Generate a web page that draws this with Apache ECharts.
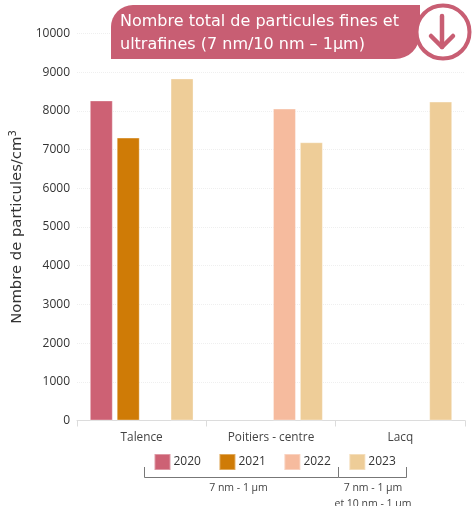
<!DOCTYPE html>
<html><head><meta charset="utf-8">
<style>html,body{margin:0;padding:0;background:#fff}#c{width:476px;height:506px}</style>
<script src="https://cdn.jsdelivr.net/npm/echarts@6/dist/echarts.min.js"></script>
</head><body><div id="c"></div>
<script>
const categories = ['Talence', 'Poitiers - centre', 'Lacq'];
const values2020 = [8270, null, null];
const values2021 = [7310, null, null];
const values2022 = [null, 8060, null];
const values2023 = [8840, 7190, 8240];
const yAxisTitle = 'Nombre de particules/cm{sup|3}';
const titleLines = ['Nombre total de particules fines et', 'ultrafines (7 nm/10 nm – 1µm)'];
const font = '"Open Sans"';
const roundFont = '"DejaVu Sans"';
const mk = (name, data, color) => ({
  name, type: 'bar', data, barWidth: 23, barGap: '17%', barCategoryGap: '10%',
  itemStyle: {color, borderColor: 'rgba(255,255,255,0.35)', borderWidth: 1},
  emphasis: {disabled: true}
});
const chart = echarts.init(document.getElementById('c'), null, {renderer: 'canvas'});
const ink = '#777';
const accent = '#c85e73';
chart.setOption({
  animation: false,
  grid: {left: 77, right: 11, top: 33.5, bottom: 85.5, containLabel: false, outerBoundsMode: 'none'},
  xAxis: {
    type: 'category', data: categories,
    axisLine: {lineStyle: {color: '#dcdcdc'}},
    axisTick: {show: true, alignWithLabel: false, length: 6, lineStyle: {color: '#dcdcdc'}},
    axisLabel: {color: '#444', fontFamily: font, fontSize: 11.8, margin: 11}
  },
  yAxis: {
    type: 'value', min: 0, max: 10000, interval: 1000,
    name: yAxisTitle, nameLocation: 'middle', nameGap: 40, nameRotate: 90,
    nameTextStyle: {color: '#333', fontFamily: roundFont, fontSize: 14.8,
      rich: {sup: {fontSize: 10, verticalAlign: 'top', padding: [0,0,8,0], color: '#333', fontFamily: roundFont}}},
    axisLine: {show: false}, axisTick: {show: false},
    axisLabel: {color: '#333', fontFamily: font, fontSize: 12, margin: 7, formatter: v => String(v)},
    splitLine: {lineStyle: {color: '#efefef', type: 'dotted'}}
  },
  legend: {
    show: true, icon: 'rect',
    left: 148.5, top: 448, itemWidth: 16, itemHeight: 16, itemGap: 17.5,
    textStyle: {color: '#333', fontFamily: font, fontSize: 12, padding: [0,0,0,-2]},
    data: ['2020','2021','2022','2023']
  },
  series: [
    mk('2020', values2020, '#cd6174'),
    mk('2021', values2021, '#cf7b06'),
    mk('2022', values2022, '#f6bb9e'),
    mk('2023', values2023, '#eecd98')
  ],
  graphic: [
    {type: 'polyline', z: 100, silent: true, shape: {points: [[144.5,467],[144.5,477.5],[338.5,477.5],[338.5,467]]}, style: {stroke: ink, lineWidth: 1, fill: null}},
    {type: 'polyline', z: 100, silent: true, shape: {points: [[338.5,477.5],[406.5,477.5],[406.5,467]]}, style: {stroke: ink, lineWidth: 1, fill: null}},
    {type: 'text', z: 100, style: {x: 238.5, y: 488, text: '7 nm - 1 µm', align: 'center', verticalAlign: 'middle', fill: '#444', fontFamily: font, fontSize: 10.5}},
    {type: 'text', z: 100, style: {x: 373, y: 488, text: '7 nm - 1 µm', align: 'center', verticalAlign: 'middle', fill: '#444', fontFamily: font, fontSize: 10.5}},
    {type: 'text', z: 100, style: {x: 373, y: 504.5, text: 'et 10 nm - 1 µm', align: 'center', verticalAlign: 'middle', fill: '#444', fontFamily: font, fontSize: 10.5}},
    {type: 'rect', z: 100, silent: true, shape: {x: 111, y: 5, width: 309, height: 54, r: [22, 0, 25, 0]}, style: {fill: accent}},
    {type: 'circle', z: 101, silent: true, shape: {cx: 443, cy: 32, r: 26.5}, style: {fill: '#fff', stroke: accent, lineWidth: 4}},
    {type: 'polyline', z: 102, silent: true, shape: {points: [[442,16],[442,47]]}, style: {stroke: accent, lineWidth: 4.5, lineCap: 'round', fill: null}},
    {type: 'polyline', z: 102, silent: true, shape: {points: [[431,36],[442,47],[453,36]]}, style: {stroke: accent, lineWidth: 4.5, lineCap: 'round', lineJoin: 'round', fill: null}},
    {type: 'text', z: 103, silent: true, style: {x: 120, y: 22, text: titleLines[0], fill: '#fff', fontFamily: roundFont, fontSize: 16, verticalAlign: 'middle'}},
    {type: 'text', z: 103, silent: true, style: {x: 120, y: 45, text: titleLines[1], fill: '#fff', fontFamily: roundFont, fontSize: 16, verticalAlign: 'middle'}}
  ]
});
</script></body></html>
